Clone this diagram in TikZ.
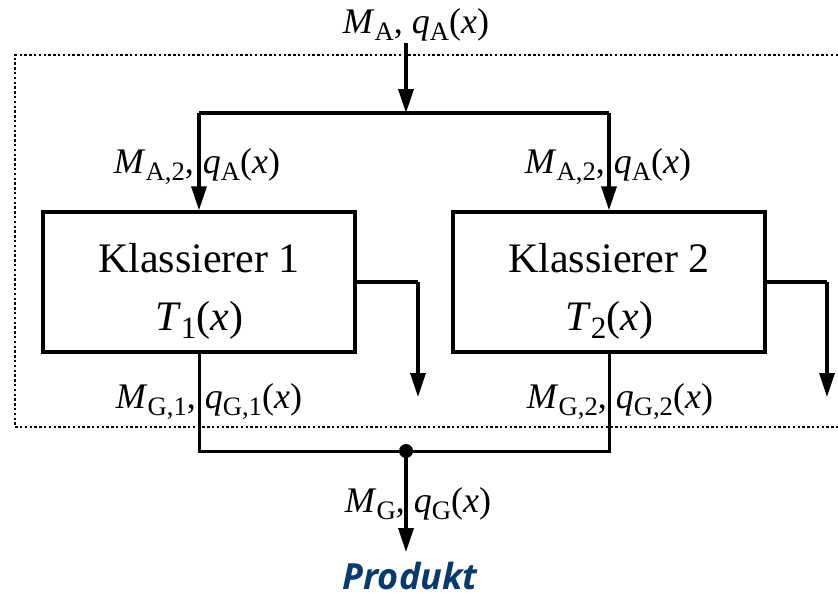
\documentclass[tikz,border=0pt]{standalone}
\usepackage{fontspec}
\setmainfont{Liberation Serif}
\newfontfamily\prodfont{Open Sans}
\usetikzlibrary{arrows.meta}
\definecolor{prodblue}{HTML}{0A3A6B}
\newcommand{\itl}[1]{\textit{#1}}
% lowered, reduced subscript
\newcommand{\sbx}[1]{\raisebox{-0.2em}{\scalebox{0.74}{#1}}}
\tikzset{
  flow/.style={line width=3.4pt, -{Triangle[length=24pt,width=15pt]}},
  wire/.style={line width=3.4pt},
  thinwire/.style={line width=3pt},
  klbox/.style={draw, line width=3.4pt, minimum width=312pt, minimum height=140pt, inner sep=0pt},
  kltext/.style={align=center, font=\fontsize{42}{58}\selectfont, inner sep=0pt},
  lbl/.style={anchor=base, inner sep=0pt, font=\fontsize{36}{40}\selectfont},
  systembound/.style={line width=2.6pt, dash pattern=on 2.4pt off 2.4pt}
}
\begin{document}
\begin{tikzpicture}[x=1pt,y=-1pt]
  \useasboundingbox (0,0) rectangle (838,598);

  % system boundary
  \draw[systembound] (838,55) -- (15,55) -- (15,427) -- (838,427);

  % classifiers
  \node[klbox] (k1) at (199,282) {};
  \node[klbox] (k2) at (609,282) {};
  \node[kltext] (k1txt) at (199,291) {Klassierer 1\\\itl{T}\sbx{1}(\itl{x})};
  \node[kltext] (k2txt) at (609,291) {Klassierer 2\\\itl{T}\sbx{2}(\itl{x})};

  % feed and split
  \coordinate (feed) at (406,43);
  \coordinate (split) at (406,113);
  \coordinate (sl) at (199,113);
  \coordinate (sr) at (609,113);
  \draw[flow] (feed) -- (split);
  \draw[wire] (sl) -- (sr);
  \draw[flow] (sl) -- (k1.north);
  \draw[flow] (sr) -- (k2.north);

  % coarse outputs
  \coordinate (c1) at (418,282);
  \coordinate (c1end) at (418,397);
  \coordinate (c2) at (827,282);
  \coordinate (c2end) at (827,397);
  \draw[wire] (k1.east) -- (c1);
  \draw[flow] (c1) -- (c1end);
  \draw[wire] (k2.east) -- (c2);
  \draw[flow] (c2) -- (c2end);

  % fine outputs merged
  \coordinate (b1) at (199,451);
  \coordinate (b2) at (609,451);
  \coordinate (join) at (406,451);
  \coordinate (prod) at (406,552);
  \draw[thinwire] (k1.south) -- (b1) -- (b2) -- (k2.south);
  \fill (join) circle (7pt);
  \draw[flow] (join) -- (prod);

  % stream labels
  \node[lbl] (la) at (416,33) {\itl{M}\sbx{A}, \itl{q}\sbx{A}(\itl{x})};
  \node[lbl] (la1) at (197,173) {\itl{M}\sbx{A,2}, \itl{q}\sbx{A}(\itl{x})};
  \node[lbl] (la2) at (608,173) {\itl{M}\sbx{A,2}, \itl{q}\sbx{A}(\itl{x})};
  \node[lbl] (lg1) at (209,408) {\itl{M}\sbx{G,1}, \itl{q}\sbx{G,1}(\itl{x})};
  \node[lbl] (lg2) at (620,408) {\itl{M}\sbx{G,2}, \itl{q}\sbx{G,2}(\itl{x})};
  \node[lbl] (lg) at (418,512) {\itl{M}\sbx{G}, \itl{q}\sbx{G}(\itl{x})};

  \node[anchor=base, inner sep=0pt, text=prodblue, font=\prodfont\bfseries\itshape\fontsize{36}{38}\selectfont] (produkt) at (410,589) {Produkt};
\end{tikzpicture}
\end{document}
